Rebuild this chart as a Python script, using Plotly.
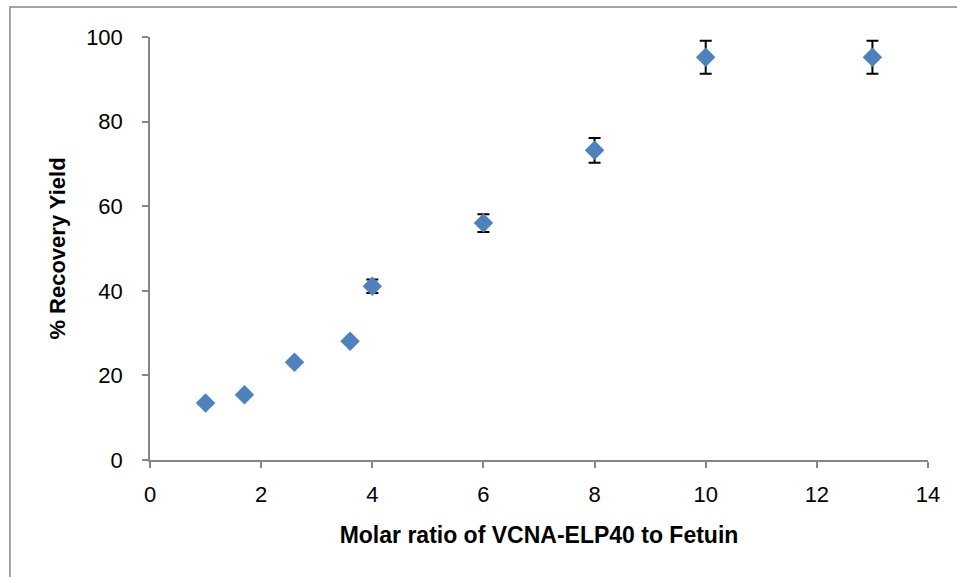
import plotly.graph_objects as go

# Molar ratio of VCNA-ELP40 to fetuin vs. recovery yield
molar_ratio = [1, 1.7, 2.6, 3.6, 4, 6, 8, 10, 13]
recovery_yield = [13.5, 15.4, 23.1, 28.1, 41.1, 56.0, 73.2, 95.2, 95.2]
yield_error = [0, 0, 0, 0, 1.6, 2.1, 2.9, 3.9, 3.9]

x_ticks = [0, 2, 4, 6, 8, 10, 12, 14]
y_ticks = [0, 20, 40, 60, 80, 100]

axis_color = "#868686"
font_family = "Liberation Sans, Arial, sans-serif"

fig = go.Figure()
fig.add_trace(go.Scatter(
    x=molar_ratio,
    y=recovery_yield,
    mode="markers",
    marker=dict(symbol="diamond", size=15, color="#4F81BD",
                line=dict(width=0)),
    error_y=dict(type="data", array=yield_error, visible=True,
                 color="black", thickness=2, width=6),
    showlegend=False,
))

fig.update_layout(
    width=957, height=577,
    margin=dict(l=150, r=29, t=37, b=117),
    plot_bgcolor="white", paper_bgcolor="white",
    font=dict(family=font_family, size=21, color="black"),
    xaxis=dict(
        range=[0, 14], tickvals=x_ticks, showgrid=False, zeroline=False,
        showline=True, linecolor=axis_color, linewidth=1.5,
        ticks="outside", ticklen=6, tickcolor=axis_color, tickwidth=1.5,
        tickfont=dict(size=22), ticklabelstandoff=8,
        title=dict(text="<b>Molar ratio of VCNA-ELP40 to Fetuin</b>",
                   font=dict(size=23), standoff=21),
    ),
    yaxis=dict(
        range=[0, 100], tickvals=y_ticks, showgrid=False, zeroline=False,
        showline=True, linecolor=axis_color, linewidth=1.5,
        ticks="outside", ticklen=6, tickcolor=axis_color, tickwidth=1.5,
        tickfont=dict(size=22), ticklabelstandoff=15,
        title=dict(text="<b>% Recovery Yield</b>", font=dict(size=22),
                   standoff=14),
    ),
    shapes=[dict(type="rect", xref="paper", yref="paper",
                 x0=-0.18, x1=1.2, y0=-0.5, y1=1.071,
                 line=dict(color=axis_color, width=1.5),
                 fillcolor="rgba(0,0,0,0)", layer="below")],
)

fig.write_html("out.html")
